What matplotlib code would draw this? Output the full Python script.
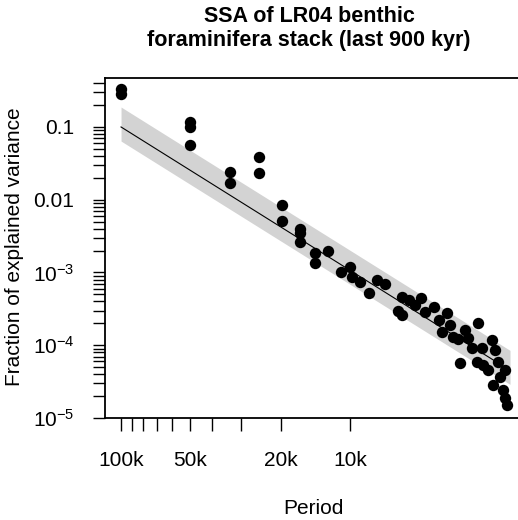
import numpy as np
import matplotlib
matplotlib.use('Agg')
import matplotlib.pyplot as plt

plt.rcParams['font.family'] = ['Liberation Sans', 'DejaVu Sans']
plt.rcParams['mathtext.fontset'] = 'custom'
plt.rcParams['mathtext.rm'] = 'Liberation Sans'
plt.rcParams['mathtext.it'] = 'Liberation Sans:italic'

# SSA eigenvalues: period of each component (kyr) and fraction of variance
period = [100, 100, 50, 50, 50, 33.4, 33.4, 25.0, 25.0, 19.8, 19.8,
          16.5, 16.5, 16.5, 14.2, 14.2, 12.5, 10.9, 10.0, 9.8, 9.0, 8.3,
          7.6, 7.0, 6.2, 5.9, 5.9, 5.5, 5.2, 4.9, 4.7, 4.3, 4.1, 3.77,
          3.97, 3.66, 3.55, 3.38, 3.15, 3.05, 2.76, 3.31, 2.93, 2.79, 2.65,
          2.40, 2.33, 2.62, 2.50, 2.26, 2.10, 2.21, 2.37, 2.14, 2.10, 2.06]
frac_var = [0.333, 0.284, 0.117, 0.100, 0.0566, 0.0241, 0.0170, 0.0387,
            0.0234, 0.0085, 0.0051, 0.0040, 0.0035, 0.0026, 0.00186,
            0.00136, 0.00198, 0.00102, 0.00119, 0.00087, 0.00074, 0.00052,
            0.00079, 0.00070, 0.00030, 0.00026, 0.00046, 0.00042, 0.00036,
            0.00045, 0.00029, 0.00034, 0.00022, 0.00028, 0.00015, 0.00019,
            0.00013, 0.00012, 0.00016, 0.000127, 0.00020, 5.7e-5, 9.2e-5,
            5.9e-5, 9.1e-5, 0.000119, 8.5e-5, 5.4e-5, 4.6e-5, 5.9e-5,
            4.6e-5, 3.7e-5, 2.86e-5, 2.44e-5, 1.9e-5, 1.52e-5]

# power-law fit and its confidence band (end points)
fit_period = [100, 2.0]
fit_value = [0.1, 4.5e-5]
band_upper = [0.188, 8.5e-5]
band_lower = [0.064, 2.9e-5]

tick_periods = [100, 90, 80, 70, 60, 50, 40, 30, 20, 10]
tick_labels = ['100k', '', '', '', '', '50k', '', '', '20k', '10k']
ytick_values = [0.1, 0.01, 1e-3, 1e-4, 1e-5]
ytick_labels = ['0.1', '0.01', r'$10^{-3}$', r'$10^{-4}$', r'$10^{-5}$']

freq = 1 / np.array(period)
fit_freq = 1 / np.array(fit_period)

fig = plt.figure(figsize=(5.18, 5.2), dpi=100)
ax = fig.add_axes([105 / 518, 102 / 520, 417 / 518, 340 / 520])

ax.fill_between(fit_freq, band_lower, band_upper, color='#d3d3d3', lw=0)
ax.plot(fit_freq, fit_value, color='black', lw=0.8)
ax.plot(freq, frac_var, 'o', color='black', markersize=8.2, markeredgewidth=0)

ax.set_xscale('log')
ax.set_yscale('log')
ax.set_xlim(1 / 117.5, 1 / 1.773)
ax.set_ylim(1e-5, 0.471)

ax.set_xticks(1 / np.array(tick_periods))
ax.set_xticklabels(tick_labels)
ax.xaxis.set_minor_locator(matplotlib.ticker.NullLocator())
ax.set_yticks(ytick_values)
ax.set_yticklabels(ytick_labels)
ax.yaxis.set_minor_locator(matplotlib.ticker.LogLocator(base=10, subs=np.arange(2, 10)))
ax.yaxis.set_minor_formatter(matplotlib.ticker.NullFormatter())

ax.tick_params(axis='both', which='both', direction='out', length=9,
               width=1, labelsize=15, color='black')
ax.tick_params(axis='x', pad=15)
ax.tick_params(axis='y', pad=13)
for sp in ax.spines.values():
    sp.set_linewidth(1.3)

fig.text(309 / 518, 1 - 28.5 / 520,
         'SSA of LR04 benthic\nforaminifera stack (last 900 kyr)',
         ha='center', va='center', fontsize=15.5, fontweight='bold',
         linespacing=1.15)
fig.text(313 / 518, 1 - 508 / 520, 'Period', ha='center', va='center', fontsize=15)
fig.text(15 / 518, 1 - 247 / 520, 'Fraction of explained variance',
         ha='center', va='center', rotation=90, fontsize=15)

fig.savefig('out.png', dpi=100)
